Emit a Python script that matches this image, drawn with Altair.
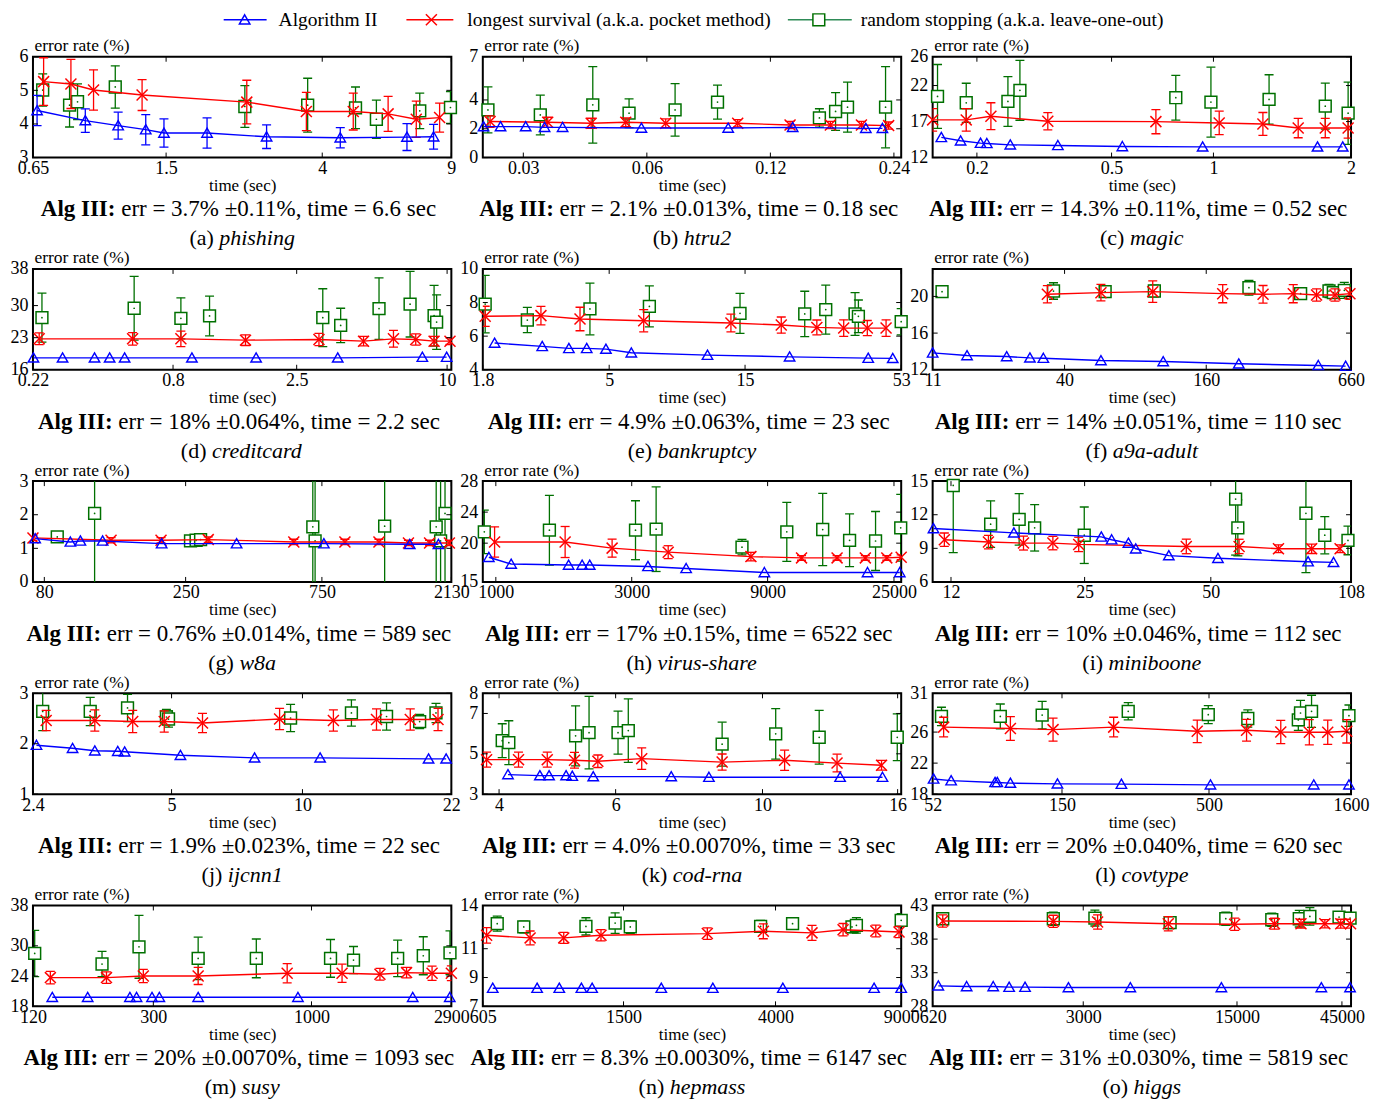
import altair as alt
import pandas as pd

FONT = "Liberation Serif"
BLUE, RED, GREEN = "#0000ff", "#ff0000", "#007000"

DATASETS = ["phishing", "htru2", "magic", "creditcard", "bankruptcy", "a9a-adult", "w8a",
            "virus-share", "miniboone", "ijcnn1", "cod-rna", "covtype", "susy", "hepmass", "higgs"]
ALG3_ERR = ["3.7%", "2.1%", "14.3%", "18%", "4.9%", "14%", "0.76%", "17%", "10%", "1.9%",
            "4.0%", "20%", "20%", "8.3%", "31%"]
ALG3_PM = ["0.11%", "0.013%", "0.11%", "0.064%", "0.063%", "0.051%", "0.014%", "0.15%", "0.046%",
           "0.023%", "0.0070%", "0.040%", "0.0070%", "0.0030%", "0.030%"]
ALG3_TIME = ["6.6", "0.18", "0.52", "2.2", "23", "110", "589", "6522", "112", "22", "33", "620",
             "1093", "6147", "5819"]
LEGEND_LABELS = ["Algorithm II", "longest survival (a.k.a. pocket method)",
                 "random stopping (a.k.a. leave-one-out)"]

X_DOMAINS = [[0.65, 9], [0.0239, 0.25], [0.148, 2.55], [0.22, 10.4], [1.8, 53], [11, 660],
             [73, 2130], [900, 26500], [10.85, 108], [2.4, 22], [3.78, 16.2], [52, 1600],
             [120, 2900], [605, 9000], [620, 49500]]
X_TICKS = [[0.65, 1.5, 4, 9], [0.03, 0.06, 0.12, 0.24], [0.2, 0.5, 1, 2.55], [0.22, 0.8, 2.5, 10],
           [1.8, 5, 15, 53], [11, 40, 160, 660], [80, 250, 750, 2130], [1000, 3000, 9000, 25000],
           [12, 25, 50, 108], [2.4, 5, 10, 22], [4, 6, 10, 16], [52, 150, 500, 1600],
           [120, 300, 1000, 2900], [605, 1500, 4000, 9000], [620, 3000, 15000, 45000]]
X_LABELS = [["0.65", "1.5", "4", "9"], ["0.03", "0.06", "0.12", "0.24"], ["0.2", "0.5", "1", "2"],
            ["0.22", "0.8", "2.5", "10"], ["1.8", "5", "15", "53"], ["11", "40", "160", "660"],
            ["80", "250", "750", "2130"], ["1000", "3000", "9000", "25000"], ["12", "25", "50", "108"],
            ["2.4", "5", "10", "22"], ["4", "6", "10", "16"], ["52", "150", "500", "1600"],
            ["120", "300", "1000", "2900"], ["605", "1500", "4000", "9000"],
            ["620", "3000", "15000", "45000"]]
Y_DOMAINS = [[3, 6], [0, 7], [12, 26], [16, 38], [4, 10], [12, 23], [0, 3], [15, 28], [6, 15],
             [1, 3], [3, 8], [18, 31], [18, 38], [7, 14], [28, 43]]
Y_TICKS = [[3, 4, 5, 6], [0, 2, 4, 7], [12, 17, 22, 26], [16, 23, 30, 38], [4, 6, 8, 10],
           [12, 16, 20], [0, 1, 2, 3], [15, 20, 24, 28], [6, 9, 12, 15], [1, 2, 3], [3, 5, 7, 8],
           [18, 22, 26, 31], [18, 24, 30, 38], [7, 9, 11, 14], [28, 33, 38, 43]]

# ---- (a) phishing
A_BLUE_T = [0.667, 0.903, 1.11, 1.32, 1.48, 1.94, 2.82, 4.48, 6.81, 8.05]
A_BLUE_E = [4.40, 4.10, 3.95, 3.83, 3.73, 3.73, 3.62, 3.59, 3.61, 3.62]
A_BLUE_S = [0.45, 0.35, 0.40, 0.45, 0.42, 0.45, 0.35, 0.30, 0.40, 0.37]
A_RED_T = [0.695, 0.825, 0.951, 1.29, 2.49, 3.62, 4.86, 6.05, 7.22, 8.36]
A_RED_E = [5.26, 5.19, 5.01, 4.86, 4.65, 4.37, 4.37, 4.30, 4.14, 4.19]
A_RED_S = [0.71, 0.73, 0.60, 0.46, 0.65, 0.57, 0.55, 0.52, 0.54, 0.43]
A_GREEN_T = [0.691, 0.818, 0.860, 1.09, 2.46, 3.65, 4.93, 5.62, 7.38, 8.95]
A_GREEN_E = [5.01, 4.56, 4.66, 5.10, 4.52, 4.56, 4.48, 4.14, 4.39, 4.49]
A_GREEN_S = [0.48, 0.65, 0.53, 0.63, 0.62, 0.80, 0.62, 0.57, 0.53, 0.47]
# ---- (b) htru2
B_BLUE_T = [0.0240, 0.0264, 0.0304, 0.0338, 0.0374, 0.0582, 0.0947, 0.136, 0.205, 0.225]
B_BLUE_E = [2.15, 2.15, 2.15, 2.10, 2.10, 2.05, 2.05, 2.10, 2.03, 2.03]
B_RED_T = [0.0249, 0.0344, 0.0439, 0.0533, 0.0667, 0.0999, 0.134, 0.168, 0.200, 0.233]
B_RED_E = [2.50, 2.45, 2.38, 2.45, 2.38, 2.38, 2.26, 2.26, 2.26, 2.22]
B_RED_S = [0.40, 0.35, 0.35, 0.30, 0.30, 0.25, 0.25, 0.25, 0.25, 0.25]
B_GREEN_T = [0.0246, 0.0330, 0.0443, 0.0543, 0.0703, 0.0892, 0.158, 0.173, 0.185, 0.229]
B_GREEN_E = [3.31, 2.96, 3.66, 3.08, 3.31, 3.85, 2.75, 3.20, 3.50, 3.50]
B_GREEN_S = [1.60, 1.38, 2.65, 1.00, 1.82, 1.18, 0.64, 1.31, 1.74, 2.82]
# ---- (c) magic
C_BLUE_T = [0.157, 0.179, 0.205, 0.214, 0.251, 0.347, 0.538, 0.929, 2.03, 2.41]
C_BLUE_E = [14.8, 14.33, 14.0, 13.96, 13.77, 13.68, 13.54, 13.49, 13.49, 13.49]
C_RED_T = [0.148, 0.186, 0.220, 0.324, 0.676, 1.04, 1.40, 1.78, 2.14, 2.50]
C_RED_E = [17.23, 17.23, 17.74, 17.04, 16.99, 16.81, 16.67, 16.1, 16.1, 16.1]
C_RED_S = [1.56, 1.56, 1.87, 1.19, 1.68, 1.63, 1.59, 1.35, 1.35, 1.40]
C_GREEN_T = [0.153, 0.186, 0.247, 0.268, 0.774, 0.983, 1.46, 2.14, 2.50]
C_GREEN_E = [20.49, 19.61, 19.79, 21.33, 20.31, 19.70, 20.07, 19.14, 18.16]
C_GREEN_S = [4.43, 2.71, 3.45, 4.15, 3.10, 4.85, 3.43, 3.20, 4.32]
# ---- (d) creditcard
D_BLUE_T = [0.221, 0.289, 0.388, 0.446, 0.512, 0.952, 1.72, 3.65, 7.96, 9.96]
D_BLUE_E = [18.6, 18.6, 18.6, 18.6, 18.6, 18.6, 18.6, 18.6, 18.75, 18.75]
D_RED_T = [0.233, 0.551, 0.860, 1.56, 3.07, 4.63, 6.10, 7.49, 8.87, 10.27]
D_RED_E = [22.75, 22.75, 22.75, 22.46, 22.6, 22.24, 22.75, 22.6, 22.24, 22.24]
D_RED_S = [1.28, 1.36, 1.69, 1.17, 1.32, 1.03, 1.83, 1.21, 1.03, 0.73]
D_GREEN_T = [0.239, 0.559, 0.860, 1.12, 3.18, 3.75, 5.34, 7.11, 8.87, 9.08]
D_GREEN_E = [27.37, 29.42, 27.22, 27.74, 27.37, 25.68, 29.35, 30.3, 27.8, 26.4]
D_GREEN_S = [5.35, 6.96, 4.47, 4.33, 6.3, 3.74, 6.71, 7.15, 6.63, 5.94]
# ---- (e) bankruptcy
E_BLUE_T = [1.98, 2.91, 3.61, 4.17, 4.87, 5.98, 11.07, 21.5, 40.6, 49.5]
E_BLUE_E = [5.59, 5.39, 5.27, 5.27, 5.23, 5.01, 4.87, 4.77, 4.69, 4.68]
E_RED_T = [1.835, 2.88, 3.95, 6.61, 13.38, 20.1, 26.8, 33.3, 40.3, 46.9]
E_RED_E = [7.18, 7.22, 7.02, 6.92, 6.78, 6.66, 6.52, 6.48, 6.48, 6.48]
E_RED_S = [0.60, 0.55, 0.70, 0.66, 0.53, 0.48, 0.44, 0.49, 0.45, 0.49]
E_GREEN_T = [1.835, 2.58, 4.28, 6.92, 14.4, 24.3, 28.8, 36.5, 37.5, 53]
E_GREEN_E = [7.91, 6.96, 7.62, 7.77, 7.36, 7.32, 7.58, 7.32, 7.18, 6.86]
E_GREEN_S = [1.71, 0.75, 1.54, 1.22, 1.19, 1.35, 1.46, 1.27, 0.97, 0.78]
# ---- (f) a9a-adult
F_BLUE_T = [11, 15.4, 22.7, 28.5, 32.5, 57.1, 105, 220, 479, 626]
F_BLUE_E = [13.84, 13.55, 13.44, 13.3, 13.26, 13.01, 12.9, 12.65, 12.47, 12.4]
F_RED_T = [33.8, 57.1, 94.8, 188, 279, 375, 471, 564, 653]
F_RED_E = [20.23, 20.41, 20.52, 20.3, 20.23, 20.3, 20.16, 20.16, 20.3]
F_RED_S = [0.94, 0.90, 1.17, 0.99, 0.96, 0.99, 0.67, 0.67, 0.63]
F_GREEN_T = [12.06, 35.9, 59.5, 96.3, 243, 403, 532, 555, 618]
F_GREEN_E = [20.52, 20.59, 20.52, 20.59, 20.95, 20.3, 20.59, 20.41, 20.66]
F_GREEN_S = [0.45, 0.90, 0.60, 0.63, 0.81, 0.45, 0.72, 0.54, 0.88]
# ---- (g) w8a
G_BLUE_T = [74.3, 98.7, 107, 128, 206, 377, 762, 1523, 1919]
G_BLUE_E = [1.29, 1.19, 1.22, 1.22, 1.14, 1.14, 1.14, 1.12, 1.12]
G_RED_T = [73, 137, 205, 300, 598, 903, 1188, 1507, 1787, 2097]
G_RED_E = [1.31, 1.24, 1.24, 1.26, 1.19, 1.19, 1.19, 1.16, 1.16, 1.16]
G_RED_S = [0.08, 0.08, 0.08, 0.08, 0.08, 0.08, 0.08, 0.08, 0.08, 0.08]
G_GREEN_T = [88.8, 120, 260, 272, 282, 697, 710, 1244, 1885, 1953, 2024]
G_GREEN_E = [1.34, 2.04, 1.22, 1.24, 1.26, 1.64, 1.22, 1.66, 1.64, 1.22, 2.04]
G_GREEN_S = [0.08, 2.5, 0.05, 0.05, 0.06, 2.5, 2.5, 2.5, 2.5, 2.5, 2.5]
# ---- (h) virus-share
H_BLUE_T = [945, 1132, 1801, 2009, 2136, 3421, 4658, 8767, 20190, 26200]
H_BLUE_E = [18.18, 17.31, 17.18, 17.18, 17.18, 17.0, 16.74, 16.22, 16.22, 16.22]
H_RED_T = [990, 1751, 2560, 4029, 7863, 11840, 15780, 19830, 23590, 26500]
H_RED_E = [20.15, 20.15, 19.36, 18.84, 18.27, 18.1, 18.1, 18.1, 18.1, 18.18]
H_RED_S = [1.96, 2.0, 1.16, 0.83, 0.55, 0.3, 0.3, 0.3, 0.3, 0.3]
H_GREEN_T = [911, 1542, 3093, 3654, 7316, 10510, 14050, 17460, 21540, 26400]
H_GREEN_E = [21.46, 21.67, 21.67, 21.8, 19.49, 21.46, 21.76, 20.37, 20.28, 21.98]
H_GREEN_S = [2.8, 4.5, 3.8, 5.45, 1.0, 3.8, 4.65, 3.4, 3.8, 4.3]
# ---- (i) miniboone
I_BLUE_T = [10.9, 16.95, 27.4, 29.0, 31.8, 33.1, 39.7, 52.0, 85.3, 98.1]
I_BLUE_E = [10.77, 10.38, 10.02, 9.77, 9.47, 8.96, 8.35, 8.11, 7.81, 7.75]
I_RED_T = [11.57, 14.74, 17.87, 21.0, 24.2, 43.7, 58.4, 72.5, 87.0, 101.7]
I_RED_E = [9.77, 9.56, 9.47, 9.47, 9.35, 9.17, 9.17, 8.96, 8.96, 8.96]
I_RED_S = [0.6, 0.6, 0.62, 0.6, 0.64, 0.65, 0.64, 0.35, 0.42, 0.35]
I_GREEN_T = [12.15, 14.92, 17.45, 19.0, 24.95, 57.3, 58.0, 84.3, 93.5, 106.2]
I_GREEN_E = [14.61, 11.16, 11.59, 10.83, 10.17, 13.4, 10.83, 12.13, 10.17, 9.71]
I_GREEN_S = [6.0, 2.08, 2.3, 2.07, 2.52, 5.0, 2.5, 5.3, 1.66, 1.28]
# ---- (j) ijcnn1
J_BLUE_T = [2.445, 2.96, 3.33, 3.76, 3.90, 5.24, 7.76, 10.98, 19.5, 21.4]
J_BLUE_E = [1.97, 1.91, 1.86, 1.85, 1.84, 1.77, 1.72, 1.72, 1.70, 1.70]
J_RED_T = [2.574, 3.33, 4.07, 4.81, 5.89, 8.86, 11.78, 14.8, 17.7, 20.5]
J_RED_E = [2.46, 2.46, 2.44, 2.44, 2.41, 2.49, 2.46, 2.48, 2.48, 2.48]
J_RED_S = [0.20, 0.21, 0.22, 0.21, 0.19, 0.21, 0.21, 0.21, 0.21, 0.22]
J_GREEN_T = [2.527, 3.25, 3.96, 4.865, 4.92, 9.39, 12.96, 15.61, 18.6, 20.28]
J_GREEN_E = [2.64, 2.64, 2.71, 2.53, 2.49, 2.51, 2.61, 2.54, 2.44, 2.61]
J_GREEN_S = [0.38, 0.28, 0.27, 0.15, 0.16, 0.27, 0.26, 0.27, 0.14, 0.19]
# ---- (k) cod-rna
K_BLUE_T = [4.126, 4.61, 4.76, 5.05, 5.16, 5.55, 7.28, 8.30, 13.1, 15.18]
K_BLUE_E = [3.97, 3.92, 3.92, 3.92, 3.89, 3.87, 3.87, 3.84, 3.84, 3.84]
K_RED_T = [3.83, 4.28, 4.73, 5.20, 5.64, 6.57, 8.69, 10.8, 12.96, 15.13]
K_RED_E = [4.71, 4.71, 4.71, 4.68, 4.63, 4.76, 4.59, 4.68, 4.54, 4.43]
K_RED_S = [0.37, 0.37, 0.37, 0.39, 0.31, 0.53, 0.40, 0.50, 0.44, 0.24]
K_GREEN_T = [4.044, 4.138, 5.22, 5.47, 6.05, 6.27, 8.69, 10.47, 12.18, 15.98]
K_GREEN_E = [5.65, 5.55, 5.89, 6.05, 6.05, 6.15, 5.48, 5.99, 5.82, 5.82]
K_GREEN_S = [0.84, 1.09, 1.49, 1.8, 1.07, 1.57, 1.09, 1.25, 1.33, 1.16]
# ---- (l) covtype
L_BLUE_T = [52.4, 60.5, 86.7, 88.3, 98.3, 144.5, 244, 506, 1179, 1573]
L_BLUE_E = [19.96, 19.74, 19.51, 19.51, 19.42, 19.33, 19.29, 19.2, 19.2, 19.2]
L_RED_T = [56.9, 98.3, 139.4, 229, 454, 680, 900, 1137, 1322, 1545]
L_RED_E = [26.64, 26.46, 26.32, 26.64, 26.1, 26.24, 26.01, 25.97, 25.97, 26.1]
L_RED_S = [1.27, 1.54, 1.49, 1.27, 1.45, 1.4, 1.51, 1.63, 1.56, 1.51]
L_GREEN_T = [55.9, 90.5, 127.5, 258, 497, 687, 1039, 1058, 1158, 1573]
L_GREEN_E = [28.02, 28.02, 28.19, 28.68, 28.24, 27.75, 27.57, 28.46, 28.68, 28.11]
L_GREEN_S = [1.18, 1.6, 1.78, 1.11, 1.16, 1.11, 1.34, 1.63, 2.07, 1.38]
# ---- (m) susy
M_BLUE_T = [139, 182, 251, 264, 297, 314, 422, 902, 2161, 2865]
M_BLUE_E = [19.8, 19.8, 19.8, 19.8, 19.8, 19.8, 19.8, 19.8, 19.8, 19.8]
M_RED_T = [137, 210, 278, 422, 831, 1262, 1684, 2062, 2504, 2900]
M_RED_E = [23.7, 23.7, 24.03, 24.03, 24.56, 24.56, 24.36, 24.69, 24.56, 24.56]
M_RED_S = [1.25, 1.15, 1.31, 1.7, 1.9, 1.8, 1.15, 1.05, 1.41, 1.48]
M_GREEN_T = [121.6, 203, 269, 422, 657, 1156, 1377, 1927, 2342, 2870]
M_GREEN_E = [28.49, 26.39, 29.8, 27.51, 27.51, 27.51, 27.18, 27.51, 28.03, 28.62]
M_GREEN_S = [4.59, 2.49, 6.23, 4.2, 3.84, 3.74, 2.69, 3.61, 3.77, 4.33]
# ---- (n) hepmass
N_BLUE_T = [645, 859, 991, 1143, 1225, 1914, 2669, 4193, 7556, 9000]
N_BLUE_E = [8.26, 8.26, 8.26, 8.26, 8.26, 8.26, 8.26, 8.26, 8.26, 8.26]
N_RED_T = [620, 821, 1020, 1297, 2576, 3697, 5062, 6185, 7640, 8876]
N_RED_E = [11.93, 11.75, 11.75, 11.93, 12.05, 12.21, 12.1, 12.32, 12.23, 12.16]
N_RED_S = [0.54, 0.48, 0.38, 0.39, 0.4, 0.52, 0.52, 0.43, 0.41, 0.39]
N_GREEN_T = [664, 788, 1177, 1421, 1567, 3633, 4465, 6551, 6741, 9000]
N_GREEN_E = [12.74, 12.51, 12.55, 12.78, 12.51, 12.55, 12.74, 12.51, 12.62, 12.97]
N_GREEN_S = [0.52, 0.41, 0.6, 0.71, 0.44, 0.42, 0.34, 0.39, 0.54, 0.46]
# ---- (o) higgs
O_BLUE_T = [658, 885, 1169, 1381, 1631, 2569, 4911, 12740, 36280, 49000]
O_BLUE_E = [31.05, 30.95, 30.95, 30.85, 30.85, 30.8, 30.8, 30.8, 30.8, 30.8]
O_RED_T = [689, 2193, 3486, 7307, 14640, 22210, 29310, 37640, 44450, 49260]
O_RED_E = [40.69, 40.64, 40.54, 40.29, 40.2, 40.29, 40.29, 40.29, 40.29, 40.29]
O_RED_S = [0.91, 0.91, 1.06, 1.06, 0.91, 0.81, 0.66, 0.61, 0.66, 0.66]
O_GREEN_T = [689, 2193, 3389, 7447, 13340, 21590, 28790, 32170, 43660, 49000]
O_GREEN_E = [41.03, 41.03, 41.13, 40.44, 41.03, 40.88, 41.03, 41.38, 41.28, 41.13]
O_GREEN_S = [0.74, 0.98, 1.18, 0.86, 0.98, 0.98, 1.23, 1.3, 0.74, 0.86]

SERIES = [
    (A_BLUE_T, A_BLUE_E, A_BLUE_S, A_RED_T, A_RED_E, A_RED_S, A_GREEN_T, A_GREEN_E, A_GREEN_S),
    (B_BLUE_T, B_BLUE_E, None, B_RED_T, B_RED_E, B_RED_S, B_GREEN_T, B_GREEN_E, B_GREEN_S),
    (C_BLUE_T, C_BLUE_E, None, C_RED_T, C_RED_E, C_RED_S, C_GREEN_T, C_GREEN_E, C_GREEN_S),
    (D_BLUE_T, D_BLUE_E, None, D_RED_T, D_RED_E, D_RED_S, D_GREEN_T, D_GREEN_E, D_GREEN_S),
    (E_BLUE_T, E_BLUE_E, None, E_RED_T, E_RED_E, E_RED_S, E_GREEN_T, E_GREEN_E, E_GREEN_S),
    (F_BLUE_T, F_BLUE_E, None, F_RED_T, F_RED_E, F_RED_S, F_GREEN_T, F_GREEN_E, F_GREEN_S),
    (G_BLUE_T, G_BLUE_E, None, G_RED_T, G_RED_E, G_RED_S, G_GREEN_T, G_GREEN_E, G_GREEN_S),
    (H_BLUE_T, H_BLUE_E, None, H_RED_T, H_RED_E, H_RED_S, H_GREEN_T, H_GREEN_E, H_GREEN_S),
    (I_BLUE_T, I_BLUE_E, None, I_RED_T, I_RED_E, I_RED_S, I_GREEN_T, I_GREEN_E, I_GREEN_S),
    (J_BLUE_T, J_BLUE_E, None, J_RED_T, J_RED_E, J_RED_S, J_GREEN_T, J_GREEN_E, J_GREEN_S),
    (K_BLUE_T, K_BLUE_E, None, K_RED_T, K_RED_E, K_RED_S, K_GREEN_T, K_GREEN_E, K_GREEN_S),
    (L_BLUE_T, L_BLUE_E, None, L_RED_T, L_RED_E, L_RED_S, L_GREEN_T, L_GREEN_E, L_GREEN_S),
    (M_BLUE_T, M_BLUE_E, None, M_RED_T, M_RED_E, M_RED_S, M_GREEN_T, M_GREEN_E, M_GREEN_S),
    (N_BLUE_T, N_BLUE_E, None, N_RED_T, N_RED_E, N_RED_S, N_GREEN_T, N_GREEN_E, N_GREEN_S),
    (O_BLUE_T, O_BLUE_E, None, O_RED_T, O_RED_E, O_RED_S, O_GREEN_T, O_GREEN_E, O_GREEN_S),
]

# approximate advance widths (per 1000 em) of the serif font, for centring mixed-style captions
NORMAL_W = {' ': 250, '%': 833, '(': 333, ')': 333, ',': 250, '-': 333, '.': 250, ':': 278,
            '=': 564, '±': 564, 'a': 444, 'b': 500, 'c': 444, 'd': 500, 'e': 444, 'f': 333,
            'g': 500, 'h': 500, 'i': 278, 'j': 278, 'k': 500, 'l': 278, 'm': 778, 'n': 500,
            'o': 500, 'r': 333, 's': 389, 't': 278}
BOLD_W = {'A': 722, 'l': 278, 'g': 500, ' ': 250, 'I': 389, ':': 333}
ITALIC_W = {'a': 500, 'b': 500, 'c': 444, 'd': 500, 'e': 444, 'f': 278, 'g': 500, 'h': 500,
            'i': 278, 'j': 278, 'k': 444, 'l': 278, 'm': 722, 'n': 500, 'o': 500, 'p': 500,
            'r': 389, 's': 389, 't': 278, 'u': 500, 'v': 444, 'w': 667, 'y': 444, '-': 333}


def tw(s, table, size):
    return sum(table.get(ch, 500) for ch in s) * size / 1000.0


W, H = 419, 101
ALG_SIZE, CAP_SIZE = 23, 22
TRI = "M0,-0.95L1,0.8L-1,0.8Z"
XMARK = "M-1,-1L1,1M-1,1L1,-1"
CAP = "M-1,0L1,0"


def label_expr(vals, labs):
    s = ""
    for v, l in zip(vals, labs):
        s += f"abs(datum.value - {v}) < {abs(v) * 1e-6 + 1e-9} ? '{l}' : "
    return s + "''"


def sdf(t, e, s=None):
    d = pd.DataFrame({"t": t, "e": e})
    if s is not None:
        d["lo"] = [a - b for a, b in zip(e, s)]
        d["hi"] = [a + b for a, b in zip(e, s)]
    return d


def text_layer(txt, x, y, size, align="left", weight="normal", style="normal"):
    return alt.Chart(pd.DataFrame({"txt": [txt]})).mark_text(
        font=FONT, fontSize=size, fontWeight=weight, fontStyle=style, color="black",
        align=align, baseline="middle").encode(text="txt:N", x=alt.value(x), y=alt.value(y))


def make_panel(i):
    xs = alt.Scale(type="log", domain=X_DOMAINS[i], nice=False)
    ys = alt.Scale(domain=Y_DOMAINS[i], nice=False, zero=False)
    xaxis = alt.Axis(values=X_TICKS[i], labelExpr=label_expr(X_TICKS[i], X_LABELS[i]),
                     title="time (sec)", grid=False, ticks=False, domain=False, labelFlush=False,
                     labelOverlap=False, labelPadding=2, titlePadding=0, labelFontSize=18,
                     titleFontSize=17, titleFontWeight="normal")
    yaxis = alt.Axis(values=Y_TICKS[i], labelExpr=label_expr(Y_TICKS[i], [str(v) for v in Y_TICKS[i]]),
                     title="error rate (%)", grid=False, ticks=False,
                     domain=False, labelFlush=False, labelOverlap=False, labelPadding=5,
                     labelFontSize=18, titleFontSize=17.5, titleFontWeight="normal", titleAngle=0,
                     titleAlign="left", titleBaseline="alphabetic", titleX=1, titleY=-6)
    X = alt.X("t:Q", scale=xs, axis=xaxis)

    def Y(f):
        return alt.Y(f"{f}:Q", scale=ys, axis=yaxis)

    def errbars(df, color):
        base = alt.Chart(df)
        return [
            base.mark_rule(color=color, strokeWidth=1.3, clip=True).encode(x=X, y=Y("lo"), y2="hi:Q"),
            base.mark_point(shape=CAP, size=81, color=color, strokeWidth=1.3, opacity=1,
                            clip=True).encode(x=X, y=Y("lo")),
            base.mark_point(shape=CAP, size=81, color=color, strokeWidth=1.3, opacity=1,
                            clip=True).encode(x=X, y=Y("hi")),
        ]

    bt, be, bs, rt, re_, rs, gt, ge, gs = SERIES[i]
    blue = sdf(bt, be, bs)
    red = sdf(rt, re_, rs)
    green = sdf(gt, ge, gs)

    layers = []
    # green: random stopping
    layers += errbars(green, GREEN)
    layers.append(alt.Chart(green).mark_point(shape="square", size=140, filled=True, fill="white",
                                              stroke=GREEN, strokeWidth=1.5, opacity=1)
                  .encode(x=X, y=Y("e")))
    layers.append(alt.Chart(green).mark_point(shape="circle", size=3, filled=True, color=GREEN,
                                              opacity=1).encode(x=X, y=Y("e")))
    # red: longest survival
    layers.append(alt.Chart(red).mark_line(color=RED, strokeWidth=1.4).encode(x=X, y=Y("e")))
    layers += errbars(red, RED)
    layers.append(alt.Chart(red).mark_point(shape=XMARK, size=121, color=RED, strokeWidth=1.5,
                                            opacity=1).encode(x=X, y=Y("e")))
    # blue: Algorithm II
    layers.append(alt.Chart(blue).mark_line(color=BLUE, strokeWidth=1.4).encode(x=X, y=Y("e")))
    if bs is not None:
        layers += errbars(blue, BLUE)
    layers.append(alt.Chart(blue).mark_point(shape=TRI, size=110, color=BLUE, strokeWidth=1.4,
                                             opacity=1).encode(x=X, y=Y("e")))

    # inward tick marks on all four sides
    tx = pd.DataFrame({"t": X_TICKS[i]})
    ty = pd.DataFrame({"e": Y_TICKS[i]})
    layers.append(alt.Chart(tx).mark_rule(color="black", strokeWidth=1)
                  .encode(x=X, y=alt.value(H), y2=alt.value(H - 5)))
    layers.append(alt.Chart(tx).mark_rule(color="black", strokeWidth=1)
                  .encode(x=X, y=alt.value(0), y2=alt.value(5)))
    layers.append(alt.Chart(ty).mark_rule(color="black", strokeWidth=1)
                  .encode(y=Y("e"), x=alt.value(0), x2=alt.value(5)))
    layers.append(alt.Chart(ty).mark_rule(color="black", strokeWidth=1)
                  .encode(y=Y("e"), x=alt.value(W - 5), x2=alt.value(W)))

    # captions below the panel
    cx = W / 2 - 3
    bold = "Alg III:"
    rest = f"err = {ALG3_ERR[i]} ±{ALG3_PM[i]}, time = {ALG3_TIME[i]} sec"
    wb = tw(bold, BOLD_W, ALG_SIZE) + tw(" ", NORMAL_W, ALG_SIZE)
    wr = tw(rest, NORMAL_W, ALG_SIZE)
    x0 = cx - (wb + wr) / 2
    layers.append(text_layer(bold, x0, 153, ALG_SIZE, weight="bold"))
    layers.append(text_layer(rest, x0 + wb, 153, ALG_SIZE))
    pre = f"({chr(ord('a') + i)})"
    wp = tw(pre + " ", NORMAL_W, CAP_SIZE)
    wn = tw(DATASETS[i], ITALIC_W, CAP_SIZE)
    x1 = W / 2 - (wp + wn) / 2
    layers.append(text_layer(pre, x1, 182, CAP_SIZE))
    layers.append(text_layer(DATASETS[i], x1 + wp, 182, CAP_SIZE, style="italic"))

    if i == 0:
        ly = -37
        one = pd.DataFrame({"k": [0]})
        specs = [(BLUE, 191, 234, 212, 246, TRI, 110),
                 (RED, 374, 421, 399, 435, XMARK, 121),
                 ("#2e8b57", 756, 820, 787, 829, "square", 140)]
        for (col, xa, xb, xm, xt, shp, sz), lab in zip(specs, LEGEND_LABELS):
            layers.append(alt.Chart(one).mark_rule(color=col, strokeWidth=1.6)
                          .encode(x=alt.value(xa), x2=alt.value(xb), y=alt.value(ly)))
            if shp == "square":
                layers.append(alt.Chart(one).mark_point(shape=shp, size=sz, filled=True, fill="white",
                                                        stroke=GREEN, strokeWidth=1.5, opacity=1)
                              .encode(x=alt.value(xm), y=alt.value(ly)))
            else:
                layers.append(alt.Chart(one).mark_point(shape=shp, size=sz, color=col,
                                                        strokeWidth=1.5, opacity=1)
                              .encode(x=alt.value(xm), y=alt.value(ly)))
            layers.append(text_layer(lab, xt, ly, 19.5))

    return alt.layer(*layers).properties(width=W, height=H)


chart = alt.concat(*[make_panel(i) for i in range(15)], columns=3,
                   spacing={"row": 111.5, "column": 31.5}, bounds="flush").properties(
    padding={"left": 1, "top": 0, "right": 2, "bottom": 0},
    autosize=alt.AutoSizeParams(type="pad"),
).configure_view(stroke="black", strokeWidth=2).configure_axis(
    labelFont=FONT, titleFont=FONT, labelColor="black", titleColor="black")

chart.save("out.html", embed_options={"renderer": "svg", "actions": False})
